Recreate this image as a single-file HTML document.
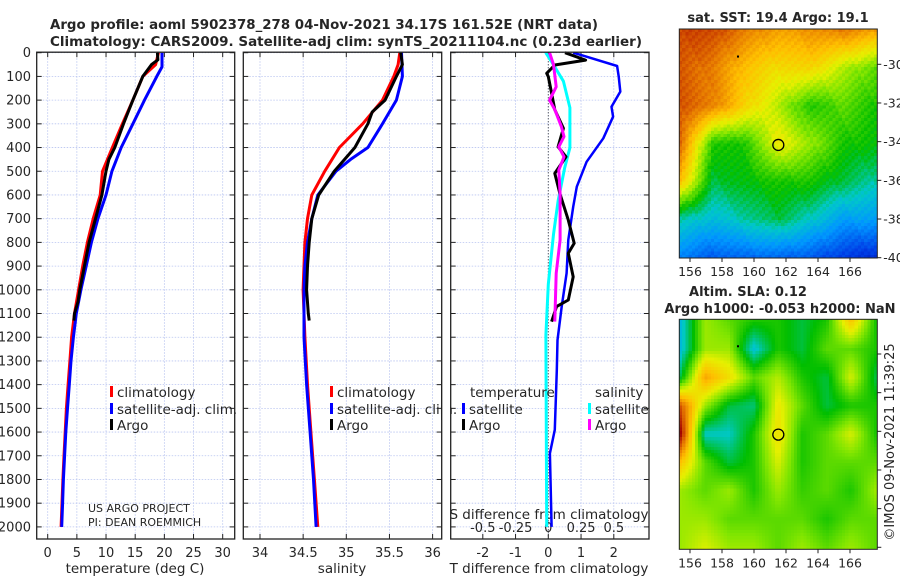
<!DOCTYPE html>
<html><head><meta charset="utf-8">
<style>
body{margin:0;background:#fff;width:900px;height:580px;overflow:hidden;position:relative;font-family:"DejaVu Sans","Liberation Sans",sans-serif;}
canvas{position:absolute;image-rendering:pixelated;}
svg{position:absolute;left:0;top:0;}
svg text{font-family:"DejaVu Sans","Liberation Sans",sans-serif;fill:#262626;}
</style></head><body>
<canvas id="sst" width="62" height="72" style="left:679px;top:29px;width:198px;height:229px"></canvas>
<canvas id="sla" width="62" height="72" style="left:679px;top:319px;width:198px;height:230px"></canvas>
<svg id="chart" width="900" height="580"></svg>
<script>
// ---- data ----
const tDepth=[0,50,100,200,300,400,500,600,700,800,900,1000,1100,1200,1300,1400,1500,1600,1700,1800,1900,2000];
const tClim=[19,18.5,16.3,14.6,12.8,11.1,9.4,9,7.8,6.8,6,5.3,4.6,4.1,3.8,3.5,3.2,3.0,2.8,2.6,2.45,2.3];
const tSatDepth=[0,60,100,200,300,400,500,600,700,800,900,1000,1100,1200,1300,1400,1500,1600,1700,1800,1900,2000];
const tSat=[19.6,19.6,18.7,16.6,14.6,12.6,11,10,8.6,7.5,6.6,5.7,4.9,4.4,4.0,3.7,3.4,3.1,2.9,2.7,2.55,2.4];
const tArgoDepth=[0,30,50,100,200,300,400,450,500,600,700,800,900,1000,1050,1100,1130];
const tArgo=[18.8,18.9,17.8,16.3,14.6,13,11.5,10.5,10,9.3,8.2,7.1,6.3,5.5,5.2,4.6,4.5];
const sDepth=[0,50,100,200,300,400,500,600,700,800,900,1000,1100,1200,1400,1600,1800,2000];
const sClim=[35.62,35.6,35.55,35.42,35.19,34.92,34.75,34.6,34.55,34.52,34.51,34.5,34.51,34.52,34.55,34.59,34.63,34.67];
const sSatDepth=[0,100,200,300,400,450,500,600,700,800,900,1000,1200,1400,1600,1800,2000];
const sSat=[35.64,35.65,35.58,35.42,35.25,35.05,34.88,34.67,34.6,34.55,34.52,34.51,34.51,34.54,34.58,34.62,34.65];
const sArgoDepth=[0,50,100,200,250,300,400,450,500,600,700,800,900,1000,1100,1130];
const sArgo=[35.63,35.65,35.58,35.45,35.3,35.25,35.1,34.98,34.86,34.68,34.6,34.57,34.55,34.54,34.56,34.57];
const dTSatDepth=[0,17,56,100,164,228,270,361,460,565,650,790,930,1071,1212,1340,1590,1690,2000];
const dTSat=[0.76,1.17,2.1,2.15,2.2,1.93,1.98,1.68,1.17,0.87,0.76,0.61,0.56,0.41,0.28,0.26,0.2,0.05,0.1];
const dTArgoDepth=[0,31,52,87,101,171,241,319,397,439,509,593,706,804,846,945,1043,1071,1134];
const dTArgo=[0.51,1.14,0.2,-0.05,0.0,0.1,0.2,0.46,0.3,0.54,0.2,0.35,0.61,0.79,0.61,0.76,0.61,0.25,0.1];
const dSArgoDepth=[0,50,144,200,240,312,354,397,439,495,593,790,930,1134];
const dSArgo=[0.01,0.04,0.06,0.01,0.05,0.1,0.12,0.08,0.12,0.08,0.09,0.09,0.06,0.05];
const dSSatDepth=[0,38,120,232,401,485,625,766,977,1190,2000];
const dSSat=[-0.02,0.025,0.115,0.165,0.165,0.125,0.075,0.04,0,-0.018,-0.012];
const depthTicks=[0,100,200,300,400,500,600,700,800,900,1000,1100,1200,1300,1400,1500,1600,1700,1800,1900,2000];
const tTicks=[0,5,10,15,20,25,30];
const sTicks=[34,34.5,35,35.5,36];
const sTickLabels=['34','34.5','35','35.5','36'];
const dTTicks=[-2,-1,0,1,2];
const dSTicks=[-0.5,-0.25,0,0.25,0.5];
const dSTickLabels=['-0.5','-0.25','0','0.25','0.5'];
const lonTicks=[156,158,160,162,164,166];
const latTicks=[-30,-32,-34,-36,-38,-40];
const argoLon=161.52, argoLat=-34.17;
const sstGrid=[
[0.92,0.92,0.85,0.8,0.82,0.85,0.8],
[0.9,0.85,0.75,0.7,0.72,0.62,0.55],
[0.9,0.85,0.72,0.62,0.5,0.55,0.5],
[0.88,0.5,0.5,0.68,0.6,0.5,0.48],
[0.75,0.45,0.48,0.5,0.5,0.45,0.4],
[0.4,0.35,0.4,0.45,0.38,0.3,0.3],
[0.25,0.2,0.22,0.22,0.2,0.15,0.12]];
const slaGrid=[
[0.35,0.6,0.55,0.5,0.5,0.45,0.5,0.75,0.5],
[0.35,0.6,0.6,0.36,0.5,0.45,0.55,0.55,0.5],
[0.45,0.8,0.7,0.55,0.62,0.5,0.45,0.65,0.45],
[0.9,0.6,0.45,0.42,0.68,0.55,0.45,0.5,0.5],
[1.0,0.38,0.38,0.5,0.7,0.5,0.55,0.65,0.5],
[0.75,0.55,0.45,0.5,0.65,0.5,0.55,0.55,0.55],
[0.6,0.55,0.6,0.5,0.6,0.52,0.55,0.5,0.6],
[0.6,0.6,0.55,0.55,0.55,0.55,0.5,0.55,0.55],
[0.6,0.65,0.6,0.6,0.55,0.6,0.55,0.6,0.55]];

// ---- scales ----
const Y=d=>52.7+d*0.2371;
const XT=v=>47.7+v*5.833;
const XS=v=>260+(v-34)*86.3;
const XD=v=>548.3+v*32.75;
const XDS=v=>548.3+v*4*32.75;
const panels=[[36.7,234.7],[243.3,441.7],[450.7,649]];
const top_=52.2,bot=539;
const NS='http://www.w3.org/2000/svg';
const svg=document.getElementById('chart');
function el(tag,attrs,parent){const e=document.createElementNS(NS,tag);for(const k in attrs)e.setAttribute(k,attrs[k]);(parent||svg).appendChild(e);return e;}
function txt(s,x,y,attrs,parent){const e=el('text',Object.assign({x:x,y:y},attrs||{}),parent);e.textContent=s;return e;}

panels.forEach((p,i)=>{
  const g=el('g',{});
  
  
  depthTicks.forEach(d=>{el('line',{x1:p[0],x2:p[1],y1:Y(d),y2:Y(d),stroke:'#b8c4f0','stroke-width':0.8,'stroke-dasharray':'1.5,1.5'},g);
    el('line',{x1:p[0],x2:p[0]+5,y1:Y(d),y2:Y(d),stroke:'#222'},g);
    el('line',{x1:p[1]-5,x2:p[1],y1:Y(d),y2:Y(d),stroke:'#222'},g);});
  let xs=i==0?tTicks.map(XT):i==1?sTicks.map(XS):dTTicks.map(XD);
  xs.forEach(x=>{el('line',{x1:x,x2:x,y1:top_,y2:bot,stroke:'#b8c4f0','stroke-width':0.8,'stroke-dasharray':'1.5,1.5'},g);
    el('line',{x1:x,x2:x,y1:bot-5,y2:bot,stroke:'#222'},g);el('line',{x1:x,x2:x,y1:top_,y2:top_+5,stroke:'#222'},g);});
});
const yl=el('g',{});


depthTicks.forEach(d=>txt(String(d),31,Y(d)+4.5,{'text-anchor':'end','font-size':13},yl));
tTicks.forEach(v=>txt(String(v),XT(v),557,{'text-anchor':'middle','font-size':13}));
sTicks.forEach((v,i)=>txt(sTickLabels[i],XS(v),557,{'text-anchor':'middle','font-size':13}));
dTTicks.forEach(v=>txt(String(v),XD(v),557,{'text-anchor':'middle','font-size':13}));
dSTicks.forEach((v,i)=>{txt(dSTickLabels[i],XDS(v),532,{'text-anchor':'middle','font-size':13});});
const xt1=txt('temperature (deg C)',135,573,{'text-anchor':'middle','font-size':13.5});


const xt2=txt('salinity',342,573,{'text-anchor':'middle','font-size':13.5});


const xt3=txt('T difference from climatology',549,573,{'text-anchor':'middle','font-size':13.5});


const xt4=txt('S difference from climatology',549,519,{'text-anchor':'middle','font-size':13.5});


el('line',{x1:XD(0),x2:XD(0),y1:top_,y2:bot,stroke:'#333','stroke-width':1,'stroke-dasharray':'1,2'});

function line(depths,vals,xf,color,name,w){
  const pts=depths.map((d,i)=>xf(vals[i]).toFixed(1)+','+Y(d).toFixed(1)).join(' ');
  const p=el('polyline',{points:pts,fill:'none',stroke:color,'stroke-width':w||3,'stroke-linejoin':'round'});
  
  
}
line(tDepth,tClim,XT,'#ff0000','temp-climatology-line');
line(tSatDepth,tSat,XT,'#0000ff','temp-satellite-line');
line(tArgoDepth,tArgo,XT,'#000','temp-argo-line');
line(sDepth,sClim,XS,'#ff0000','sal-climatology-line');
line(sSatDepth,sSat,XS,'#0000ff','sal-satellite-line');
line(sArgoDepth,sArgo,XS,'#000','sal-argo-line');
line(dSSatDepth,dSSat,XDS,'#00ffff','sdiff-satellite-line');
line(dTSatDepth,dTSat,XD,'#0000ff','tdiff-satellite-line',2.5);
line(dTArgoDepth,dTArgo,XD,'#000','tdiff-argo-line');
line(dSArgoDepth,dSArgo,XDS,'#ff00ff','sdiff-argo-line');

panels.forEach(p=>el('rect',{x:p[0],y:top_,width:p[1]-p[0],height:bot-top_,fill:'none',stroke:'#222','stroke-width':1.3}));

function leg(x,y,color,label,name){const g=el('g',{});
  el('rect',{x:x,y:y-11,width:3,height:11,fill:color},g);txt(label,x+7,y,{'font-size':13.5},g);}
leg(110,397,'#ff0000','climatology','legend-climatology');
leg(110,414,'#0000ff','satellite-adj. clim.','legend-satellite-adj');
leg(110,430,'#000','Argo','legend-argo');
leg(330,397,'#ff0000','climatology','legend2-climatology');
leg(330,414,'#0000ff','satellite-adj. clim.','legend2-satellite-adj');
leg(330,430,'#000','Argo','legend2-argo');
el('rect',{x:442,y:380,width:8,height:40,fill:'#fff'});
el('line',{x1:441.7,x2:441.7,y1:380,y2:420,stroke:'#222','stroke-width':1.3});
txt('temperature',470,397,{'font-size':13.5});
leg(462,414,'#0000ff','satellite','legend-t-satellite');
leg(462,430,'#000','Argo','legend-t-argo');
txt('salinity',595,397,{'font-size':13.5});
leg(588,414,'#00ffff','satellite','legend-s-satellite');
leg(588,430,'#ff00ff','Argo','legend-s-argo');
txt('US ARGO PROJECT',88,512,{'font-size':11,fill:'#000'});
txt('PI: DEAN ROEMMICH',88,526,{'font-size':11,fill:'#000'});
const t1=txt('Argo profile: aoml 5902378_278 04-Nov-2021 34.17S 161.52E (NRT data)',50,29,{'font-size':13,'font-weight':'bold',fill:'#000',textLength:548,lengthAdjust:'spacingAndGlyphs'});


txt('Climatology: CARS2009. Satellite-adj clim: synTS_20211104.nc (0.23d earlier)',50,46,{'font-size':13,'font-weight':'bold',fill:'#000',textLength:592,lengthAdjust:'spacingAndGlyphs'});

const stops=[[0,[0,0,150]],[0.15,[0,60,230]],[0.28,[0,150,255]],[0.38,[0,200,200]],[0.48,[0,190,0]],[0.58,[130,230,0]],[0.66,[230,240,0]],[0.76,[255,190,0]],[0.86,[230,120,0]],[0.93,[200,60,0]],[1,[160,0,0]]];
function cmap(v){v=Math.max(0,Math.min(1,v));for(let i=1;i<stops.length;i++){if(v<=stops[i][0]){const a=stops[i-1],b=stops[i],f=(v-a[0])/(b[0]-a[0]);return a[1].map((c,k)=>Math.round(c+(b[1][k]-c)*f));}}return stops[stops.length-1][1];}
function drawMap(id,grid,noise){
  const c=document.getElementById(id),ctx=c.getContext('2d'),W=c.width,H=c.height,img=ctx.createImageData(W,H);
  const R=grid.length,C=grid[0].length;
  for(let y=0;y<H;y++)for(let x=0;x<W;x++){
    const gy=y/(H-1)*(R-1),gx=x/(W-1)*(C-1),y0=Math.min(R-2,Math.floor(gy)),x0=Math.min(C-2,Math.floor(gx)),fy=gy-y0,fx=gx-x0;
    let v=grid[y0][x0]*(1-fx)*(1-fy)+grid[y0][x0+1]*fx*(1-fy)+grid[y0+1][x0]*(1-fx)*fy+grid[y0+1][x0+1]*fx*fy;
    v+=noise*(((x*7919+y*104729)%97)/97-0.5);
    const col=cmap(v),i=(y*W+x)*4;img.data[i]=col[0];img.data[i+1]=col[1];img.data[i+2]=col[2];img.data[i+3]=255;}
  ctx.putImageData(img,0,0);
}
drawMap('sst',sstGrid,0.04);
drawMap('sla',slaGrid,0.0);
function mapAxes(x0,x1,y0,y1,lat30y,lat40y,name,showLat){
  const g=el('g',{});
  const LX=v=>690+(v-156)*16, LY=v=>lat30y+(-30-v)*(lat40y-lat30y)/10;
  el('rect',{x:x0,y:y0,width:x1-x0,height:y1-y0,fill:'none',stroke:'#222','stroke-width':1},g);
  lonTicks.forEach(v=>{el('line',{x1:LX(v),x2:LX(v),y1:y1,y2:y1+4,stroke:'#222'},g);txt(String(v),LX(v),y1+18,{'text-anchor':'middle','font-size':12.5},g);});
  latTicks.forEach(v=>{el('line',{x1:x1,x2:x1+4,y1:LY(v),y2:LY(v),stroke:'#222'},g);if(showLat)txt(String(v),x1+6,LY(v)+4.5,{'font-size':12.5},g);});
  const c=el('circle',{cx:LX(argoLon),cy:LY(argoLat),r:5.5,fill:'none',stroke:'#000','stroke-width':1.3},g);
  
  
  el('rect',{x:LX(159)-1,y:LY(-29.6)-1,width:2,height:2,fill:'#000'},g);
}
mapAxes(679.3,877.3,29,258,64.3,257.7,'sst-map-axes',true);
mapAxes(679.3,877.3,319.3,549.3,354,547.3,'sla-map-axes',false);
txt('sat. SST: 19.4 Argo: 19.1',778,22,{'text-anchor':'middle','font-size':13,'font-weight':'bold',fill:'#000'});
txt('Altim. SLA: 0.12',748,296,{'text-anchor':'middle','font-size':13,'font-weight':'bold',fill:'#000'});
txt('Argo h1000: -0.053 h2000: NaN',780,313,{'text-anchor':'middle','font-size':13,'font-weight':'bold',fill:'#000'});
const imos=txt('©IMOS 09-Nov-2021 11:39:25',0,0,{'font-size':13,'text-anchor':'middle',transform:'translate(894,442) rotate(-90)'});


</script>
</body></html>
